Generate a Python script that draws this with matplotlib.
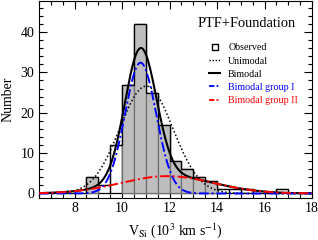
import numpy as np
import matplotlib
matplotlib.use("Agg")
import matplotlib.pyplot as plt
from matplotlib.lines import Line2D

plt.rcParams['font.family'] = ['Liberation Serif', 'DejaVu Serif']
plt.rcParams['mathtext.fontset'] = 'stix'

# histogram, bins of 0.5 starting at 6.5 (10^3 km/s)
bin_start = 6.5
bin_width = 0.5
observed = [0, 0, 0, 0, 4, 2, 12, 27, 42, 25, 17, 8, 6, 4, 3, 1, 1, 1, 0, 0, 1, 0, 0]
shaded = [0, 0, 0, 0, 4, 0, 0, 27, 42, 25, 17, 8, 6, 4, 3, 0, 0, 0, 0, 0, 0, 0, 0]

# gaussian fits: amplitude, mean, sigma
unimodal = [26.6, 11.02, 1.12]
group1 = [32.4, 10.78, 0.66]
group2 = [4.3, 11.9, 1.95]

legend_labels = ["Observed", "Unimodal", "Bimodal", "Bimodal group I", "Bimodal group II"]


def gauss(x, p):
    return p[0] * np.exp(-(x - p[1]) ** 2 / (2 * p[2] ** 2))


n = len(observed)
edges = bin_start + bin_width * np.arange(n + 1)
lefts = edges[:-1]
obs = np.array(observed)
gry = np.array(shaded)

fig = plt.figure(figsize=(3.18, 2.4), dpi=100)
ax = fig.add_axes([0.1226, 0.177, 0.8585, 0.819])

m = obs > 0
ax.bar(lefts[m], obs[m], width=bin_width, align='edge', fill=False,
       edgecolor='k', lw=0.9, zorder=1)
g = gry > 0
ax.bar(lefts[g], gry[g], width=bin_width, align='edge', color='#bebebe',
       edgecolor='#707070', lw=0.9, zorder=2)
ax.stairs(obs, edges, color='k', lw=0.9, baseline=None, zorder=3)

dash_dot = (0, (5, 1.5, 1, 1.5))
x = np.linspace(6.5, 18, 500)
ax.plot(x, gauss(x, unimodal), color='k', ls=(0, (1, 1.5)), lw=1.1, zorder=4)
ax.plot(x, gauss(x, group1) + gauss(x, group2), color='k', lw=1.5, zorder=5)
ax.plot(x, gauss(x, group1), color='blue', ls=dash_dot, lw=1.4, zorder=6)
ax.plot(x, gauss(x, group2), color='red', ls=dash_dot, lw=1.4, zorder=7)

ax.set_xlim(6.5, 18)
ax.set_ylim(-1, 47.7)
ax.set_xticks([8, 10, 12, 14, 16, 18])
ax.set_yticks([0, 10, 20, 30, 40])
ax.set_xticks(np.arange(6.5, 18.01, 0.5), minor=True)
ax.set_yticks(np.arange(0, 47, 2), minor=True)
ax.tick_params(which='both', direction='in', top=True, right=True, labelsize=10)
ax.tick_params(which='major', length=6, width=0.8)
ax.tick_params(which='minor', length=3, width=0.8)

ax.set_xlabel(r"V$_{\rm Si}$ (10$^3$ km s$^{-1}$)", fontsize=10, labelpad=4)
ax.set_ylabel("Number", fontsize=10, labelpad=4)

ax.text(0.762, 0.885, "PTF+Foundation", transform=ax.transAxes,
        ha='center', va='center', fontsize=10.4)

handles = [
    Line2D([], [], marker='s', ls='none', mfc='none', mec='k', ms=4, mew=1),
    Line2D([], [], color='k', ls=(0, (1, 1.2)), lw=1.0),
    Line2D([], [], color='k', lw=1.5),
    Line2D([], [], color='blue', ls=(0, (3, 1.2, 1, 1.2)), lw=1.3),
    Line2D([], [], color='red', ls=(0, (3, 1.2, 1, 1.2)), lw=1.3),
]
ax.legend(handles, legend_labels, loc='upper left', bbox_to_anchor=(0.605, 0.81),
          frameon=False, fontsize=7.2, handlelength=1.1, handletextpad=0.8,
          labelspacing=0.42, borderpad=0,
          labelcolor=['k', 'k', 'k', 'blue', 'red'])

fig.savefig("out.png", dpi=100)
